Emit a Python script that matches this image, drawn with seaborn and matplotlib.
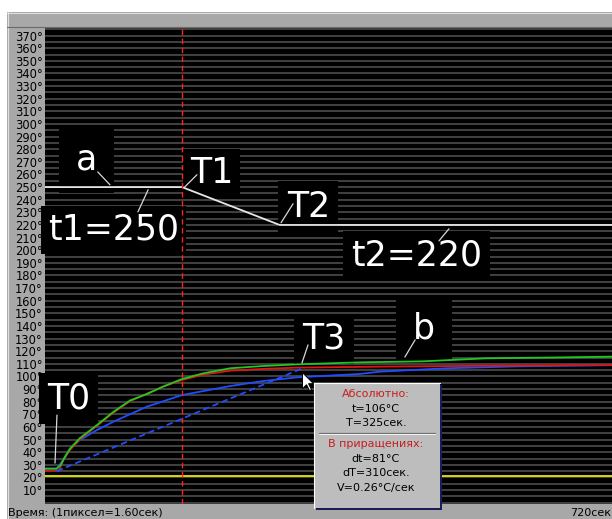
import matplotlib
matplotlib.use("Agg")
import matplotlib.pyplot as plt
import matplotlib.patches as mpatches
import matplotlib.lines as mlines
import matplotlib.transforms as mtransforms
import numpy as np
import pandas as pd
import seaborn as sns

# setpoint programme (white line), seconds / degrees
setpoint_time = [0, 174, 298, 720]
setpoint_temp = [250, 250, 220, 220]

# measured channels
green_time = [0, 15, 20, 26, 32, 44, 66, 87, 108, 129, 150, 174, 201, 235, 277, 320, 400, 480, 561, 640, 720]
green_temp = [27, 27, 30, 37, 43, 51, 61.5, 72, 81, 86, 92, 98, 102.5, 106.5, 108.3, 109.6, 111.2, 112, 114.4, 115, 115.7]

red_time = [0, 18, 23, 32, 44, 66, 87, 108, 150, 174, 201, 235, 277, 320, 425, 560, 720]
red_temp = [25.5, 25.5, 33.8, 42, 50, 61, 71.5, 80.5, 92, 97.2, 101.5, 104.6, 106, 107, 107.8, 108.5, 109]

blue_time = [0, 15, 22, 32, 44, 66, 87, 129, 174, 235, 277, 320, 400, 425, 510, 600, 720]
blue_temp = [27, 27, 33, 43, 49.6, 57.6, 64.2, 76, 85.3, 92.4, 96.4, 99.3, 102, 103.8, 106.5, 108, 109]

yellow_time = [0, 720]
yellow_temp = [21.5, 21.5]

# markers from the cursor readout
T0_time, T0_temp = 15, 25
T3_time, T3_temp = 325, 106
T1_time = 174

y_ticks = list(range(10, 371, 10))
y_grid = list(range(0, 376, 5))

W, H = 612, 519
GREY = "#a8a8a8"
BLUE = "#1f4dff"


def fig_xy(px, py):
    return px / W, 1 - py / H


df = pd.concat([
    pd.DataFrame({"time": setpoint_time, "temp": setpoint_temp, "ch": "set"}),
    pd.DataFrame({"time": yellow_time, "temp": yellow_temp, "ch": "yellow"}),
    pd.DataFrame({"time": blue_time, "temp": blue_temp, "ch": "blue"}),
    pd.DataFrame({"time": red_time, "temp": red_temp, "ch": "red"}),
    pd.DataFrame({"time": green_time, "temp": green_temp, "ch": "green"}),
])
palette = {"set": "#e6e6e6", "yellow": "#e8e800", "blue": BLUE, "red": "#e01414", "green": "#20c820"}

sns.set_theme(style="dark")
plt.rcParams["font.family"] = ["DejaVu Sans"]

fig = plt.figure(figsize=(W / 100, H / 100), dpi=100)
fig.patch.set_facecolor("white")

# window frame
x0, y0 = fig_xy(7, 519)
fig.add_artist(mpatches.Rectangle((x0, y0), 1 - x0, (519 - 12) / H, transform=fig.transFigure,
                                  fc=GREY, ec="none", zorder=-10))
fig.add_artist(mlines.Line2D([7 / W, 1], [1 - 12.5 / H] * 2, transform=fig.transFigure, color="#e0e0e0", lw=0.8))
fig.add_artist(mlines.Line2D([7.5 / W] * 2, [0, 1 - 12 / H], transform=fig.transFigure, color="#e0e0e0", lw=0.8))
fig.add_artist(mlines.Line2D([7 / W, 1], [1 - 27.3 / H] * 2, transform=fig.transFigure, color="#6a6a6a", lw=0.8))

ax = fig.add_axes([45 / W, 15 / H, 567 / W, 476 / H])
ax.set_facecolor("black")
for s in ax.spines.values():
    s.set_visible(False)

sns.lineplot(data=df, x="time", y="temp", hue="ch", palette=palette, estimator=None,
             sort=False, legend=False, linewidth=1.3, ax=ax, zorder=4)
sns.lineplot(x=[T0_time, T3_time], y=[T0_temp, T3_temp], color=BLUE, linewidth=1.3, ax=ax, zorder=4)
ax.lines[-1].set_dashes([3.5, 2])

ax.axvline(T1_time, color="#ff2020", lw=1.0, dashes=(4, 2.5), zorder=4.5)

ax.set_xlim(0, 720)
ax.set_ylim(-1, 376)
ax.set_xticks([])
ax.set_yticks(y_ticks)
ax.set_yticklabels([f"{v}°" for v in y_ticks], fontsize=8.3, color="black")
ax.set_yticks(y_grid, minor=True)
ax.tick_params(axis="y", which="both", length=0, pad=1.5)
ax.grid(False)
for g in y_grid:
    ax.axhline(g, color="#4c4c4c", lw=1.2, zorder=1)
ax.set_xlabel("")
ax.set_ylabel("")

# callout labels (text, left, baseline, pad, leader from, leader to)
labels = [
    ("a", 39, 263.7, 12, (67, 262), (82.5, 251.8)),
    ("t1=250", 3.8, 208.2, 5, (131, 247.9), (118, 230.4)),
    ("T1", 184, 253.2, 5, (193, 259.8), (176.5, 249.5)),
    ("T2", 307, 226.7, 6, (315, 236.8), (299.7, 221.7)),
    ("t2=220", 388.6, 187.6, 6, (513, 217), (500.3, 207.4)),
    ("T0", 2.5, 74.8, 6, (15.2, 69.4), (12.7, 31.4)),
    ("T3", 326.3, 121.8, 6, (334, 125), (326.3, 110.7)),
    ("b", 467.3, 130.3, 12, (470, 129), (457, 115.4)),
]
for txt, lx, ly, pad, a, b in labels:
    ax.text(lx, ly, txt, fontsize=25, color="white", ha="left", va="baseline", zorder=3,
            bbox=dict(fc="black", ec="none", pad=pad))
    ax.annotate("", xy=b, xytext=a, zorder=5,
                arrowprops=dict(arrowstyle="-", color="#d8d8d8", lw=0.9, shrinkA=0, shrinkB=0))

# mouse cursor at T3
tip = ax.transData.transform((T3_time + 2, T3_temp - 3))
arrow = np.array([(0, 0), (0, -16), (4, -12), (7, -18), (9, -17), (6, -11), (11, -11)], float)
cursor = mpatches.Polygon(arrow, closed=True, fc="white", ec="black", lw=0.7,
                          transform=mtransforms.Affine2D().translate(*tip), zorder=20)
fig.add_artist(cursor)

# status bar
fig.text(8 / W, 1 - 513 / H, "Время: (1пиксел=1.60сек)", fontsize=8, va="center", ha="left", color="black")
fig.text(611 / W, 1 - 513 / H, "720сек", fontsize=8, va="center", ha="right", color="black")

# readout box
bx, by = fig_xy(314, 508)
bw, bh = 126 / W, 125 / H
fig.add_artist(mpatches.Rectangle((bx + 2 / W, by - 2 / H), bw, bh, transform=fig.transFigure,
                                  fc="#1c1c58", ec="none", zorder=30))
fig.add_artist(mpatches.Rectangle((bx, by), bw, bh, transform=fig.transFigure,
                                  fc="#bdbdbd", ec="none", zorder=31))
fig.add_artist(mlines.Line2D([bx, bx + bw], [by + bh] * 2, transform=fig.transFigure, color="white", lw=0.8, zorder=32))
fig.add_artist(mlines.Line2D([bx, bx], [by, by + bh], transform=fig.transFigure, color="white", lw=0.8, zorder=32))
sx0, sy = fig_xy(319, 433)
fig.add_artist(mlines.Line2D([sx0, 435 / W], [sy, sy], transform=fig.transFigure, color="#707070", lw=0.9, zorder=32))
fig.add_artist(mlines.Line2D([sx0, 435 / W], [sy - 1 / H, sy - 1 / H], transform=fig.transFigure, color="white", lw=0.6, zorder=32))

dt = T3_temp - T0_temp
dT = T3_time - T0_time
rows = [
    ("Абсолютно:", 394, "#c81e1e"),
    (f"t={T3_temp}°C", 408.5, "black"),
    (f"T={T3_time}сек.", 423, "black"),
    ("В приращениях:", 444, "#c81e1e"),
    (f"dt={dt}°C", 458.5, "black"),
    (f"dT={dT}сек.", 473, "black"),
    (f"V={dt / dT:.2f}°C/сек", 488, "black"),
]
for txt, py, col in rows:
    fx, fy = fig_xy(376, py)
    fig.text(fx, fy, txt, fontsize=8, color=col, ha="center", va="center", zorder=33)

fig.savefig("out.png", dpi=100)
